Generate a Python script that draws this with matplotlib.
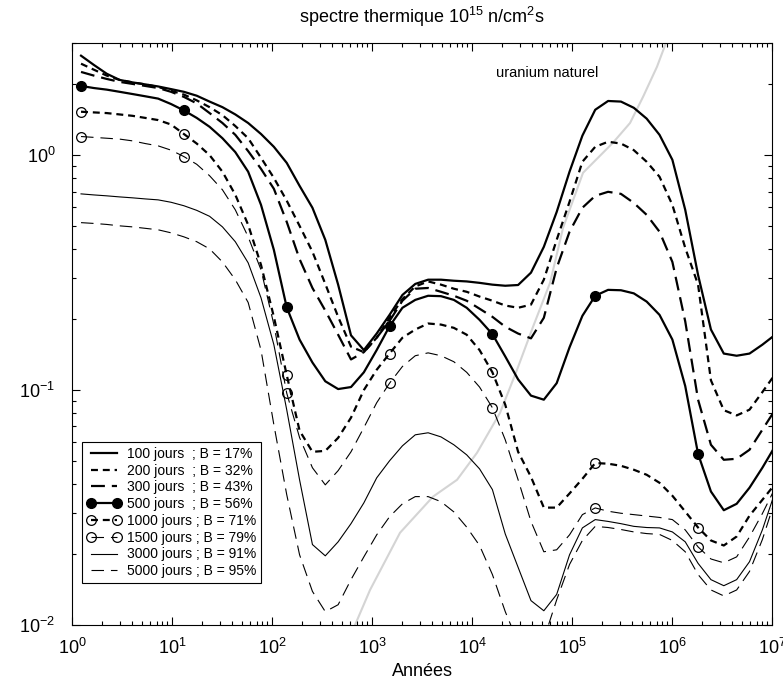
import copy
import matplotlib
matplotlib.use('Agg')
import matplotlib.pyplot as plt

plt.rcParams['font.family'] = ['Liberation Sans', 'DejaVu Sans']
plt.rcParams['mathtext.fontset'] = 'custom'
plt.rcParams['mathtext.rm'] = 'Liberation Sans'
plt.rcParams['mathtext.it'] = 'Liberation Sans:italic'
plt.rcParams['mathtext.bf'] = 'Liberation Sans:bold'
plt.rcParams['lines.scale_dashes'] = False

# temps (annees)
annees = [1.23, 1.654, 2.224, 2.99, 4.02, 5.404, 7.265, 9.769, 13.13, 17.66,
          23.74, 31.92, 42.92, 57.7, 77.58, 104.3, 140.2, 188.5, 253.5, 340.8,
          458.1, 616.0, 828.2, 1113, 1497, 2013, 2706, 3638, 4892, 6577,
          8843, 11890, 15985, 21490, 28890, 38850, 52230, 70220, 94400, 126900,
          170600, 229400, 308400, 414700, 557500, 749500, 1008000, 1355000, 1821000, 2449000,
          3293000, 4427000, 5952000, 8002000, 10760000]

j100 = [2.65, 2.42, 2.22, 2.09, 2.04, 2.00, 1.96, 1.91, 1.86, 1.79,
        1.69, 1.60, 1.49, 1.37, 1.23, 1.085, 0.927, 0.740, 0.597, 0.436,
        0.281, 0.171, 0.148, 0.174, 0.209, 0.254, 0.283, 0.295, 0.295, 0.292,
        0.290, 0.286, 0.281, 0.278, 0.280, 0.316, 0.407, 0.573, 0.850, 1.21,
        1.56, 1.70, 1.69, 1.59, 1.43, 1.22, 0.955, 0.585, 0.309, 0.181,
        0.143, 0.140, 0.143, 0.156, 0.172]
j200 = [2.45, 2.31, 2.18, 2.09, 2.04, 2.00, 1.95, 1.88, 1.81, 1.71,
        1.60, 1.48, 1.33, 1.18, 0.974, 0.80, 0.64, 0.50, 0.388, 0.283,
        0.205, 0.153, 0.145, 0.167, 0.203, 0.244, 0.276, 0.290, 0.281, 0.270,
        0.262, 0.250, 0.240, 0.229, 0.224, 0.231, 0.295, 0.436, 0.633, 0.937,
        1.085, 1.14, 1.12, 1.05, 0.937, 0.809, 0.614, 0.403, 0.281, 0.11,
        0.0821, 0.078, 0.0825, 0.098, 0.117]
j300 = [2.26, 2.18, 2.11, 2.05, 2.01, 1.97, 1.93, 1.86, 1.77, 1.66,
        1.51, 1.37, 1.22, 1.04, 0.874, 0.719, 0.520, 0.361, 0.272, 0.218,
        0.172, 0.135, 0.145, 0.167, 0.197, 0.240, 0.270, 0.272, 0.262, 0.252,
        0.240, 0.222, 0.205, 0.186, 0.174, 0.166, 0.203, 0.331, 0.472, 0.597,
        0.671, 0.698, 0.684, 0.626, 0.557, 0.472, 0.351, 0.196, 0.091, 0.0585,
        0.0505, 0.0510, 0.0557, 0.0678, 0.0825]
j500 = [1.97, 1.93, 1.90, 1.86, 1.82, 1.78, 1.74, 1.65, 1.55, 1.44,
        1.32, 1.18, 1.03, 0.85, 0.614, 0.395, 0.225, 0.164, 0.131, 0.109,
        0.101, 0.103, 0.119, 0.148, 0.187, 0.224, 0.242, 0.252, 0.251, 0.242,
        0.224, 0.199, 0.173, 0.139, 0.111, 0.0947, 0.091, 0.107, 0.152, 0.207,
        0.252, 0.267, 0.266, 0.258, 0.238, 0.209, 0.164, 0.104, 0.0535, 0.037,
        0.0308, 0.0328, 0.0384, 0.0467, 0.0578]
j1000 = [1.53, 1.52, 1.51, 1.49, 1.47, 1.44, 1.41, 1.35, 1.23, 1.12,
         1.00, 0.85, 0.678, 0.505, 0.341, 0.205, 0.116, 0.0672, 0.0546, 0.0551,
         0.0626, 0.0763, 0.100, 0.122, 0.143, 0.167, 0.181, 0.192, 0.190, 0.184,
         0.172, 0.148, 0.119, 0.0866, 0.0546, 0.0427, 0.0316, 0.0316, 0.0363, 0.0419,
         0.0489, 0.0486, 0.0476, 0.0458, 0.0436, 0.0403, 0.0355, 0.0304, 0.026, 0.0229,
         0.0218, 0.0238, 0.0292, 0.0341, 0.0399]
j1500 = [1.20, 1.19, 1.18, 1.17, 1.15, 1.12, 1.095, 1.05, 0.986, 0.914,
         0.817, 0.712, 0.585, 0.449, 0.325, 0.190, 0.0971, 0.0628, 0.0467, 0.0395,
         0.0454, 0.0546, 0.0692, 0.0883, 0.107, 0.126, 0.140, 0.144, 0.140, 0.132,
         0.119, 0.103, 0.0841, 0.0614, 0.0415, 0.0276, 0.0205, 0.0209, 0.0242, 0.0295,
         0.0315, 0.0305, 0.0299, 0.0295, 0.0291, 0.0287, 0.0281, 0.0254, 0.0215, 0.0191,
         0.0184, 0.0195, 0.0237, 0.0298, 0.0384]
j3000 = [0.684, 0.677, 0.671, 0.664, 0.658, 0.651, 0.645, 0.630, 0.609, 0.582,
         0.549, 0.495, 0.428, 0.348, 0.247, 0.156, 0.0825, 0.0415, 0.0220, 0.0197,
         0.0226, 0.0270, 0.0331, 0.0423, 0.0500, 0.0579, 0.0645, 0.0658, 0.0632, 0.0585,
         0.0530, 0.0462, 0.0377, 0.0244, 0.0176, 0.0127, 0.0115, 0.0135, 0.0199, 0.0259,
         0.0281, 0.0276, 0.0270, 0.0263, 0.0260, 0.0259, 0.0249, 0.0226, 0.0183, 0.0156,
         0.0147, 0.0156, 0.0186, 0.0254, 0.0370]
j5000 = [0.516, 0.512, 0.507, 0.500, 0.495, 0.488, 0.481, 0.467, 0.449, 0.428,
         0.399, 0.351, 0.295, 0.236, 0.148, 0.0712, 0.0359, 0.0199, 0.0139, 0.0114,
         0.0122, 0.0156, 0.0195, 0.0242, 0.0289, 0.0328, 0.0352, 0.0352, 0.0335, 0.0303,
         0.0261, 0.0218, 0.0164, 0.0114, 0.0084, 0.0074, 0.0087, 0.0128, 0.0181, 0.0229,
         0.0263, 0.0260, 0.0255, 0.0249, 0.0245, 0.0243, 0.0229, 0.0205, 0.0164, 0.0141,
         0.0133, 0.0141, 0.0169, 0.0231, 0.0341]

# uranium naturel
u_annees = [537, 676, 955, 1905, 4074, 7079, 11220, 19050, 28180, 40740, 60260,
            81280, 128800, 257000, 380200, 512900, 707900, 891300]
u_naturel = [0.0078, 0.01, 0.0141, 0.0247, 0.0352, 0.0415, 0.0541, 0.080, 0.122,
             0.186, 0.286, 0.490, 0.841, 1.13, 1.37, 1.77, 2.38, 3.09]

labels = ['100 jours  ; B = 17%', '200 jours  ; B = 32%', '300 jours  ; B = 43%',
          '500 jours  ; B = 56%', '1000 jours ; B = 71%', '1500 jours ; B = 79%',
          '3000 jours ; B = 91%', '5000 jours ; B = 95%']

fig = plt.figure(figsize=(7.83, 6.83), dpi=100)
ax = fig.add_axes([0.092, 0.0849, 0.894, 0.8521])

ax.plot(u_annees, u_naturel, color='#d4d4d4', lw=1.5, zorder=1)

lines = []
l, = ax.plot(annees, j100, color='k', lw=1.6)
lines.append(l)
l, = ax.plot(annees, j200, color='k', lw=1.6, dashes=(5, 3.5))
lines.append(l)
l, = ax.plot(annees, j300, color='k', lw=1.6, dashes=(10, 5))
lines.append(l)
l, = ax.plot(annees, j500, color='k', lw=1.6, marker='o', ms=7, markevery=8)
lines.append(l)
l, = ax.plot(annees, j1000, color='k', lw=1.6, dashes=(5, 3.5), marker='o', ms=7,
             mfc='none', mec='k', mew=0.9, markevery=8)
lines.append(l)
l, = ax.plot(annees, j1500, color='k', lw=0.8, dashes=(9, 5), marker='o', ms=7,
             mfc='none', mec='k', mew=0.9, markevery=8)
lines.append(l)
l, = ax.plot(annees, j3000, color='k', lw=0.8)
lines.append(l)
l, = ax.plot(annees, j5000, color='k', lw=0.8, dashes=(9, 5))
lines.append(l)

ax.set_xscale('log')
ax.set_yscale('log')
ax.set_xlim(1, 1e7)
ax.set_ylim(0.01, 3)

ax.tick_params(which='both', direction='in', top=True, right=True, width=0.8)
ax.tick_params(which='major', length=6)
ax.tick_params(which='minor', length=3)
ax.tick_params(axis='x', which='major', labelsize=13, pad=9)
ax.tick_params(axis='y', which='major', labelsize=13, pad=12)
for s in ax.spines.values():
    s.set_linewidth(0.8)

ax.text(55800, 2.23, 'uranium naturel', ha='center', va='center', fontsize=10.5)

handles = []
for l in lines:
    h = copy.copy(l)
    h.set_markevery(None)
    handles.append(h)
leg = ax.legend(handles, labels, loc='lower left', bbox_to_anchor=(0.014, 0.072),
                borderaxespad=0, fontsize=10, numpoints=2, handlelength=2.45,
                handletextpad=0.45, labelspacing=0.2, borderpad=0.35,
                fancybox=False, edgecolor='k', framealpha=1)
leg.get_frame().set_linewidth(0.8)

fig.text(0.539, 1 - 17 / 683, r'spectre thermique 10$^{15}$ n/cm$^{2}$s',
         ha='center', va='center', fontsize=13)
fig.text(0.539, 1 - 671 / 683, 'Années', ha='center', va='center', fontsize=13)

fig.savefig('out.png', dpi=100)
